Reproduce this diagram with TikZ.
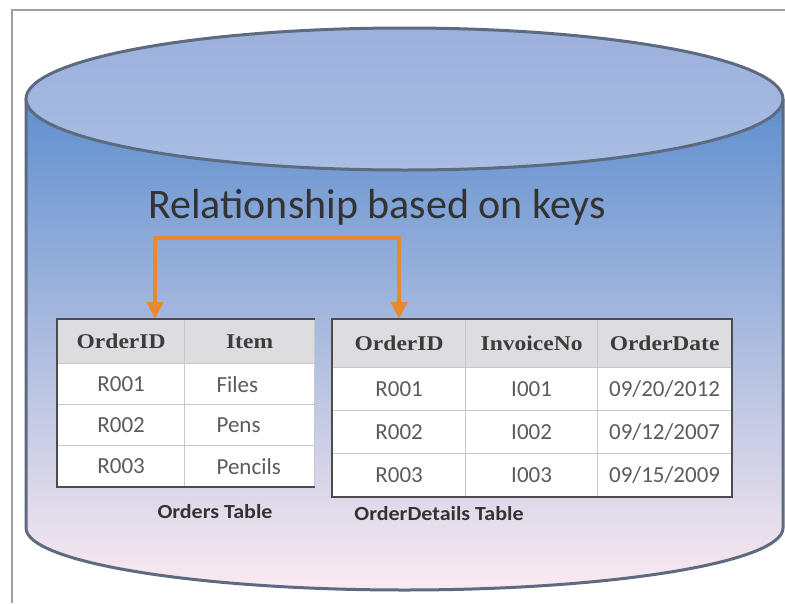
\documentclass[tikz,border=0pt]{standalone}
\usepackage{fontspec}
\setmainfont{Carlito}
\newfontfamily\hdrfont{Liberation Serif}[FakeStretch=1.12]
\newfontfamily\capfont{Carlito}[FakeStretch=1.1]
\usetikzlibrary{arrows.meta}

\definecolor{cylblue}{RGB}{95,143,207}
\definecolor{cylpink}{RGB}{251,234,240}
\definecolor{lidtop}{RGB}{155,176,219}
\definecolor{lidbot}{RGB}{168,190,228}
\definecolor{cylline}{RGB}{93,106,128}
\definecolor{keyorange}{RGB}{232,137,48}
\definecolor{hdfill}{RGB}{221,221,224}
\definecolor{gridgray}{RGB}{200,200,200}
\definecolor{datagray}{RGB}{92,92,92}
\definecolor{hdtext}{RGB}{60,60,60}

\begin{document}
\begin{tikzpicture}[x=1pt, y=-1pt]
	\tikzset{
		frameline/.style={draw=gray!75, line width=2pt},
		cylside/.style={draw=cylline, line width=3pt},
		hdcell/.style={draw=gridgray, line width=1.2pt, fill=hdfill, anchor=north west, inner sep=0pt,
			font=\hdrfont\bfseries\fontsize{21}{25}\selectfont, text=hdtext},
		datacell/.style={draw=gridgray, line width=1.2pt, fill=white, anchor=north west, inner sep=0pt,
			font=\fontsize{23}{27}\selectfont, text=datagray},
		itemcell/.style={datacell, minimum width=130pt, minimum height=41pt, text width=66pt, align=left, inner xsep=32pt},
		tblborder/.style={draw=black!70, line width=1.6pt},
		keylink/.style={draw=keyorange, line width=4.5pt, {Triangle[width=16pt,length=17pt]}-{Triangle[width=16pt,length=17pt]}},
		caption/.style={font=\capfont\bfseries\fontsize{20}{24}\selectfont, text=black!80, anchor=base},
	}
	\useasboundingbox (0,0) rectangle (785,603);
	
	% Frame
	\draw[frameline] (785,10) -- (12,10) -- (12,603);
	
	% Cylinder body
	\shade[top color=cylblue, bottom color=cylpink] (26,99) -- (26,528)
		.. controls (26,562) and (195.6,590) .. (404.5,590)
		.. controls (613.4,590) and (783,562) .. (783,528) -- (783,99) -- cycle;
	\draw[cylside] (26,99) -- (26,528)
		.. controls (26,562) and (195.6,590) .. (404.5,590)
		.. controls (613.4,590) and (783,562) .. (783,528) -- (783,99);
	
	% Cylinder lid
	\shade[top color=lidtop, bottom color=lidbot] (404.5,99) ellipse [x radius=378.5pt, y radius=71pt];
	\draw[cylside] (404.5,99) ellipse [x radius=378.5pt, y radius=71pt];
	
	% Title
	\node[font=\fontsize{42}{50}\selectfont, text=black!80, anchor=base] (ttl) at (377,218) {Relationship based on keys};
	
	% Orders table
	\node[hdcell, minimum width=127pt, minimum height=44pt] (o-h-1) at (57,319) {OrderID};
	\node[hdcell, minimum width=130pt, minimum height=44pt] (o-h-2) at (184,319) {Item};
	\foreach \r/\y/\id/\item in {1/363/R001/Files, 2/404/R002/Pens, 3/445/R003/Pencils} {
		\node[datacell, minimum width=127pt, minimum height=41pt] (o-\r-1) at (57,\y) {\id};
		\node[itemcell] (o-\r-2) at (184,\y) {\item};
	}
	\draw[tblborder] (o-h-2.north east) -- (o-h-1.north west) -- (o-3-1.south west) -- (o-3-2.south east);
	\node[caption] (ocap) at (215,518) {Orders Table};
	
	% OrderDetails table
	\foreach \c/\x/\w/\txt in {1/332/133/OrderID, 2/465/132/InvoiceNo, 3/597/134/OrderDate} {
		\node[hdcell, minimum width=\w pt, minimum height=48pt] (d-h-\c) at (\x,319) {\txt};
	}
	\foreach \r/\y/\id/\inv/\date in {1/367/R001/I001/09\slash 20\slash 2012, 2/410/R002/I002/09\slash 12\slash 2007, 3/453/R003/I003/09\slash 15\slash 2009} {
		\node[datacell, minimum width=133pt, minimum height=43pt] (d-\r-1) at (332,\y) {\id};
		\node[datacell, minimum width=132pt, minimum height=43pt] (d-\r-2) at (465,\y) {\inv};
		\node[datacell, minimum width=134pt, minimum height=43pt] (d-\r-3) at (597,\y) {\date};
	}
	\draw[tblborder] (d-h-1.north west) rectangle (d-3-3.south east);
	\node[caption] (dcap) at (439,520) {OrderDetails Table};
	
	% Key relationship
	\draw[keylink] ([xshift=34pt]o-h-1.north) -- ++(0,-81) -| (d-h-1.north);
\end{tikzpicture}
\end{document}
